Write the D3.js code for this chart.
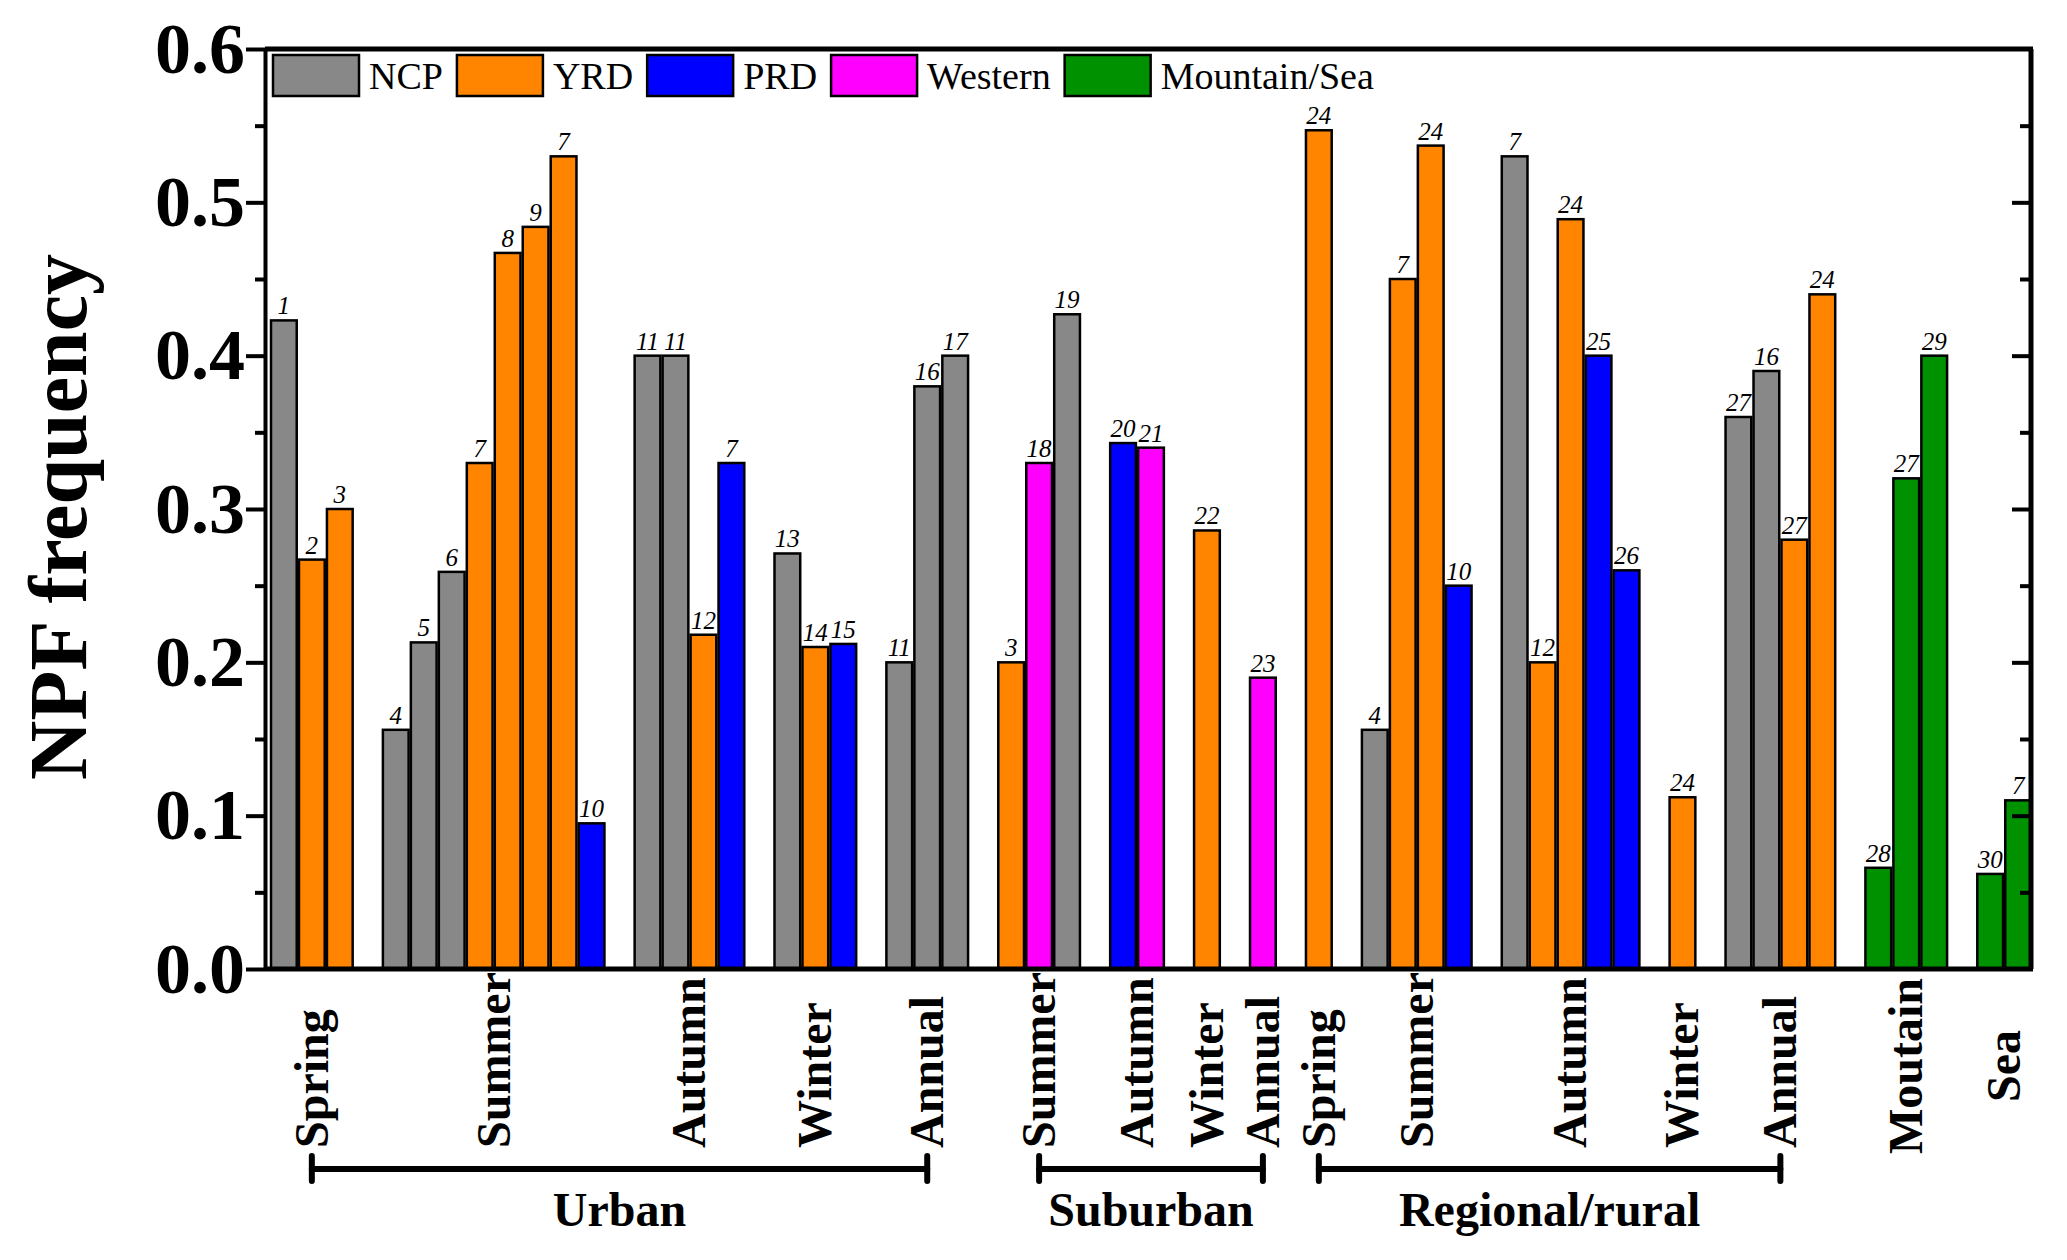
<!DOCTYPE html>
<html>
<head>
<meta charset="utf-8">
<script src="https://cdn.jsdelivr.net/npm/d3@7"></script>
<style>
  body { margin: 0; background: #fff; }
  svg { display: block; font-family: "Liberation Serif", "Times New Roman", serif; }
  .axis path, .axis line { stroke: #000; stroke-width: 4; }
  .axis text { font-size: 72px; font-weight: bold; fill: #000; font-family: "Liberation Serif", "Times New Roman", serif; }
</style>
</head>
<body>
<div id="chart"></div>
<script>
var width = 2067,
    height = 1260;

// regions (legend) and their fill colours
var regions = ["NCP", "YRD", "PRD", "Western", "Mountain/Sea"];
var regionColors = ["#888888", "#FF8400", "#0000FF", "#FF00FF", "#009100"];

// one entry per x category
var siteTypes = ["Urban", "Urban", "Urban", "Urban", "Urban",
                 "Suburban", "Suburban", "Suburban", "Suburban",
                 "Regional/rural", "Regional/rural", "Regional/rural", "Regional/rural", "Regional/rural",
                 "", ""];
var seasons = ["Spring", "Summer", "Autumn", "Winter", "Annual",
               "Summer", "Autumn", "Winter", "Annual",
               "Spring", "Summer", "Autumn", "Winter", "Annual",
               "Moutain", "Sea"];

// bars inside each category
var barRegion = [
  ["NCP", "YRD", "YRD"],
  ["NCP", "NCP", "NCP", "YRD", "YRD", "YRD", "YRD", "PRD"],
  ["NCP", "NCP", "YRD", "PRD"],
  ["NCP", "YRD", "PRD"],
  ["NCP", "NCP", "NCP"],
  ["YRD", "Western", "NCP"],
  ["PRD", "Western"],
  ["YRD"],
  ["Western"],
  ["YRD"],
  ["NCP", "YRD", "YRD", "PRD"],
  ["NCP", "YRD", "YRD", "PRD", "PRD"],
  ["YRD"],
  ["NCP", "NCP", "YRD", "YRD"],
  ["Mountain/Sea", "Mountain/Sea", "Mountain/Sea"],
  ["Mountain/Sea", "Mountain/Sea"]
];
var barValue = [
  [0.423, 0.267, 0.300],
  [0.156, 0.213, 0.259, 0.330, 0.467, 0.484, 0.530, 0.095],
  [0.400, 0.400, 0.218, 0.330],
  [0.271, 0.210, 0.212],
  [0.200, 0.380, 0.400],
  [0.200, 0.330, 0.427],
  [0.343, 0.340],
  [0.286],
  [0.190],
  [0.547],
  [0.156, 0.450, 0.537, 0.250],
  [0.530, 0.200, 0.489, 0.400, 0.260],
  [0.112],
  [0.360, 0.390, 0.280, 0.440],
  [0.066, 0.320, 0.400],
  [0.062, 0.110]
];
var barRef = [
  ["1", "2", "3"],
  ["4", "5", "6", "7", "8", "9", "7", "10"],
  ["11", "11", "12", "7"],
  ["13", "14", "15"],
  ["11", "16", "17"],
  ["3", "18", "19"],
  ["20", "21"],
  ["22"],
  ["23"],
  ["24"],
  ["4", "7", "24", "10"],
  ["7", "12", "24", "25", "26"],
  ["24"],
  ["27", "16", "27", "24"],
  ["28", "27", "29"],
  ["30", "7"]
];

var yTicks = [0, 0.1, 0.2, 0.3, 0.4, 0.5, 0.6];
var yMinor = [0.05, 0.15, 0.25, 0.35, 0.45, 0.55];

var plotLeft = 265, plotRight = 2031, plotTop = 49, plotBottom = 969;

// flatten bars into slots, one empty slot between categories
var bars = [], cats = [], slot = 0;
seasons.forEach(function(s, i) {
  var first = slot;
  barRegion[i].forEach(function(r, j) {
    bars.push({slot: slot, region: r, value: barValue[i][j], ref: barRef[i][j]});
    slot++;
  });
  cats.push({name: s, site: siteTypes[i], first: first, last: slot - 1});
  slot++;
});
var nSlots = slot - 1;

var x = d3.scaleBand()
    .domain(d3.range(nSlots))
    .range([271, plotRight])
    .paddingInner(0.08)
    .paddingOuter(0);

var y = d3.scaleLinear()
    .domain([0, 0.6])
    .range([plotBottom, plotTop]);

var color = d3.scaleOrdinal().domain(regions).range(regionColors);

var svg = d3.select("#chart").append("svg")
    .attr("width", width)
    .attr("height", height);

// bars
svg.append("g").selectAll("rect")
    .data(bars)
  .enter().append("rect")
    .attr("x", function(d) { return x(d.slot); })
    .attr("y", function(d) { return y(d.value); })
    .attr("width", x.bandwidth())
    .attr("height", function(d) { return y(0) - y(d.value); })
    .style("fill", function(d) { return color(d.region); })
    .style("stroke", "#000")
    .style("stroke-width", 2.5);

// reference numbers above bars
svg.append("g").selectAll("text")
    .data(bars)
  .enter().append("text")
    .attr("x", function(d) { return x(d.slot) + x.bandwidth() / 2; })
    .attr("y", function(d) { return y(d.value) - 6; })
    .attr("text-anchor", "middle")
    .attr("font-style", "italic")
    .attr("font-size", 25)
    .text(function(d) { return d.ref; });

// frame
var frame = svg.append("g").style("stroke", "#000").style("stroke-width", 5);
frame.append("line").attr("x1", plotLeft).attr("x2", plotRight + 2).attr("y1", plotTop).attr("y2", plotTop);
frame.append("line").attr("x1", plotLeft).attr("x2", plotRight + 2).attr("y1", plotBottom).attr("y2", plotBottom);
frame.append("line").attr("x1", plotRight).attr("x2", plotRight).attr("y1", plotTop).attr("y2", plotBottom);

// left axis
svg.append("g")
    .attr("class", "axis")
    .attr("transform", "translate(" + plotLeft + ",0)")
    .call(d3.axisLeft(y).tickValues(yTicks).tickSize(19).tickSizeOuter(0).tickPadding(1)
      .tickFormat(d3.format(".1f")));

svg.append("g")
    .attr("class", "axis")
    .attr("transform", "translate(" + plotLeft + ",0)")
    .call(d3.axisLeft(y).tickValues(yMinor).tickSize(10).tickFormat(""))
    .call(function(g) { g.select(".domain").remove(); });

// right axis, ticks pointing inward
svg.append("g")
    .attr("class", "axis")
    .attr("transform", "translate(" + plotRight + ",0)")
    .call(d3.axisRight(y).tickValues(yTicks.slice(1, -1)).tickSize(-19).tickFormat(""))
    .call(function(g) { g.select(".domain").remove(); });

svg.append("g")
    .attr("class", "axis")
    .attr("transform", "translate(" + plotRight + ",0)")
    .call(d3.axisRight(y).tickValues(yMinor).tickSize(-11).tickFormat(""))
    .call(function(g) { g.select(".domain").remove(); });

// y title
svg.append("text")
    .attr("transform", "translate(86," + ((plotTop + plotBottom) / 2 + 8) + ") rotate(-90)")
    .attr("text-anchor", "middle")
    .attr("font-size", 82)
    .attr("font-weight", "bold")
    .text("NPF frequency");

// category labels
cats.forEach(function(c) {
  c.cx = (x(c.first) + x(c.last) + x.bandwidth()) / 2;
});

svg.append("g").selectAll("text")
    .data(cats)
  .enter().append("text")
    .attr("transform", function(d) {
      var ty = d.site ? 1148 : 1066;
      return "translate(" + d.cx + "," + ty + ") rotate(-90)";
    })
    .attr("dy", "0.33em")
    .attr("text-anchor", function(d) { return d.site ? "start" : "middle"; })
    .attr("font-size", 48)
    .attr("font-weight", "bold")
    .text(function(d) { return d.name; });

// site type brackets
var sites = [];
cats.forEach(function(c) {
  if (!c.site) return;
  var s = sites.find(function(e) { return e.name === c.site; });
  if (!s) { s = {name: c.site, x1: c.cx, x2: c.cx}; sites.push(s); }
  s.x2 = c.cx;
});

var br = svg.append("g").selectAll("g")
    .data(sites)
  .enter().append("g")
    .style("stroke", "#000")
    .style("stroke-width", 6)
    .style("stroke-linecap", "round");

br.append("line")
    .attr("x1", function(d) { return d.x1; })
    .attr("x2", function(d) { return d.x2; })
    .attr("y1", 1169).attr("y2", 1169);
br.append("line")
    .attr("x1", function(d) { return d.x1; })
    .attr("x2", function(d) { return d.x1; })
    .attr("y1", 1156).attr("y2", 1181);
br.append("line")
    .attr("x1", function(d) { return d.x2; })
    .attr("x2", function(d) { return d.x2; })
    .attr("y1", 1156).attr("y2", 1181);

svg.append("g").selectAll("text")
    .data(sites)
  .enter().append("text")
    .attr("x", function(d) { return (d.x1 + d.x2) / 2; })
    .attr("y", 1226)
    .attr("text-anchor", "middle")
    .attr("font-size", 48)
    .attr("font-weight", "bold")
    .text(function(d) { return d.name; });

// legend
var legend = svg.append("g").attr("transform", "translate(273,55)");
var lx = 0;
regions.forEach(function(r, i) {
  legend.append("rect")
      .attr("x", lx).attr("y", 0)
      .attr("width", 86).attr("height", 41)
      .style("fill", regionColors[i])
      .style("stroke", "#000")
      .style("stroke-width", 2.5);
  var t = legend.append("text")
      .attr("x", lx + 96).attr("y", 34)
      .attr("font-size", 38)
      .text(r);
  lx += 96 + t.node().getComputedTextLength() + 14;
});
</script>
</body>
</html>
